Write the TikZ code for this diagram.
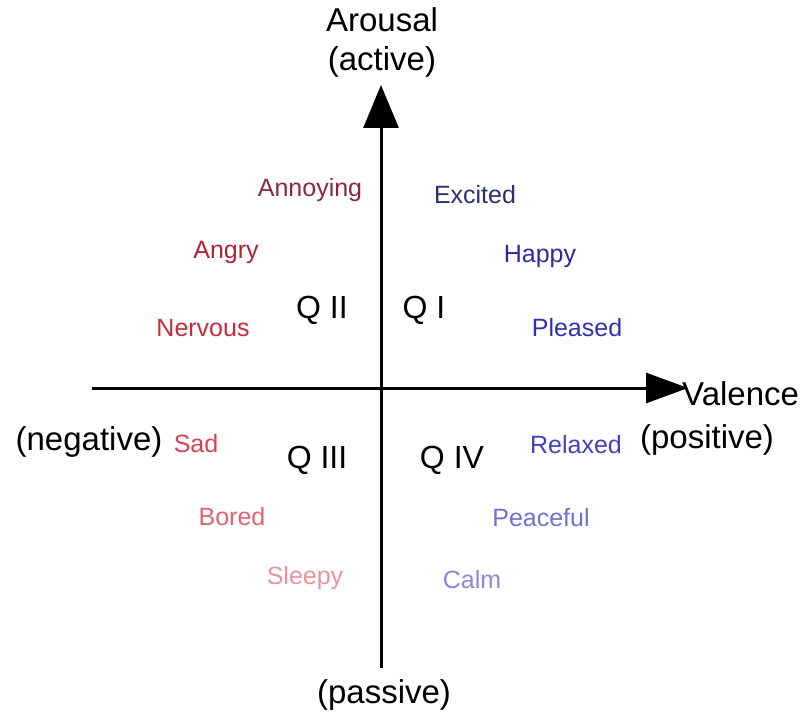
\documentclass[tikz,border=0pt]{standalone}
\usepackage{fontspec}
\setmainfont{Liberation Sans}
\usetikzlibrary{arrows.meta}
\definecolor{annoyred}{RGB}{140,40,62}
\definecolor{angryred}{RGB}{176,34,50}
\definecolor{nervred}{RGB}{196,44,58}
\definecolor{sadred}{RGB}{216,66,80}
\definecolor{boredred}{RGB}{224,100,112}
\definecolor{sleepred}{RGB}{232,146,154}
\definecolor{excblue}{RGB}{44,46,110}
\definecolor{happyblue}{RGB}{42,46,152}
\definecolor{pleasblue}{RGB}{48,48,176}
\definecolor{relaxblue}{RGB}{66,66,190}
\definecolor{peaceblue}{RGB}{112,112,208}
\definecolor{calmblue}{RGB}{136,136,220}
\tikzset{
 axislabel/.style={font=\fontsize{33}{37}\selectfont,inner sep=0pt},
 quad/.style={font=\fontsize{32}{36}\selectfont,inner sep=0pt},
 mood/.style={font=\fontsize{25}{29}\selectfont,inner sep=0pt},
 axis/.style={line width=3pt}
}

\begin{document}
\begin{tikzpicture}[x=1pt,y=-1pt]
\useasboundingbox (0,0) rectangle (808,719);
% axes
\coordinate (vtop) at (381,85);
\coordinate (vbot) at (381,668);
\coordinate (hleft) at (92,388);
\coordinate (hright) at (688,388);
\draw[axis,-{Triangle[length=43pt,width=35pt]}] (vbot)--(vtop);
\draw[axis,-{Triangle[length=42pt,width=30pt]}] (hleft)--(hright);
% axis labels
\node[axislabel] (arousal) at (382,20) {Arousal};
\node[axislabel] (active) at (382,62) {(active)};
\node[axislabel,anchor=west] (valence) at (682,394) {Valence};
\node[axislabel] (positive) at (707,440) {(positive)};
\node[axislabel] (negative) at (89,442) {(negative)};
\node[axislabel] (passive) at (384,695) {(passive)};
% quadrants
\node[quad] (q1) at (424,310) {Q I};
\node[quad] (q2) at (322,310) {Q II};
\node[quad] (q3) at (317,460) {Q III};
\node[quad] (q4) at (452,460) {Q IV};
% moods
\node[mood,text=annoyred] (annoying) at (310,190) {Annoying};
\node[mood,text=angryred] (angry) at (226,252) {Angry};
\node[mood,text=nervred] (nervous) at (203,328) {Nervous};
\node[mood,text=sadred] (sad) at (196,444) {Sad};
\node[mood,text=boredred] (bored) at (232,517) {Bored};
\node[mood,text=sleepred] (sleepy) at (305,578) {Sleepy};
\node[mood,text=excblue] (excited) at (475,195) {Excited};
\node[mood,text=happyblue] (happy) at (540,256) {Happy};
\node[mood,text=pleasblue] (pleased) at (577,328) {Pleased};
\node[mood,text=relaxblue] (relaxed) at (576,445) {Relaxed};
\node[mood,text=peaceblue] (peaceful) at (541,518) {Peaceful};
\node[mood,text=calmblue] (calm) at (472,580) {Calm};
\end{tikzpicture}
\end{document}
